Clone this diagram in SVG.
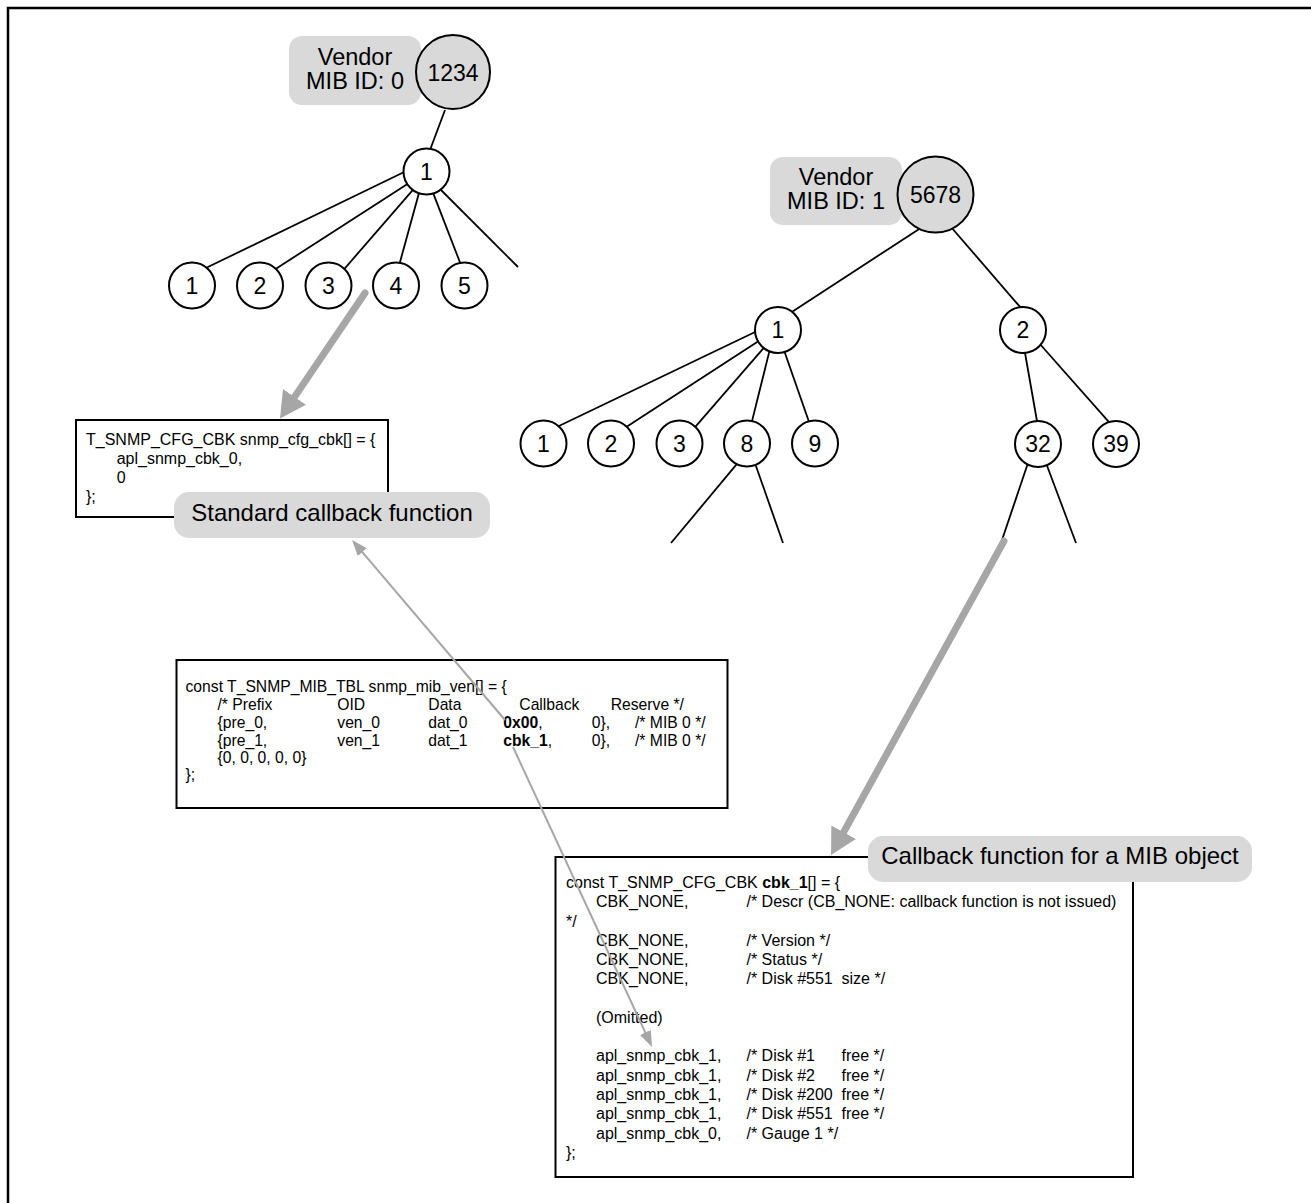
<svg xmlns="http://www.w3.org/2000/svg" width="1311" height="1203" viewBox="0 0 1311 1203">
<defs>
<style>
text{font-family:"Liberation Sans",Arial,sans-serif;fill:#000}
.frame{fill:none;stroke:#000;stroke-width:2.5}
.edge{stroke:#000;stroke-width:1.8;fill:none}
.node circle{fill:#fff;stroke:#000;stroke-width:2}
.node.root circle{fill:#d9d9d9}
.node text{font-size:23px;text-anchor:middle}
.tag rect{fill:#d9d9d9}
.tag text{font-size:23.5px;text-anchor:middle}
.tag.big text{font-size:24px}
.code rect{fill:#fff;stroke:#000;stroke-width:2}
.code text{font-size:16px}
#box-mib text{font-size:15.7px}
.b{font-weight:bold}
.thick{stroke:#a6a6a6;stroke-width:7;stroke-linecap:round;fill:none}
.thin{stroke:#a6a6a6;stroke-width:2;fill:none}
</style>
<marker id="headBig" viewBox="0 0 26 28" markerWidth="26" markerHeight="28" refX="6" refY="14" orient="auto" markerUnits="userSpaceOnUse">
<path d="M0,0 L26,14 L0,28 z" fill="#a6a6a6"/>
</marker>
<marker id="headThin" viewBox="0 0 16 12" markerWidth="16" markerHeight="12" refX="4" refY="6" orient="auto" markerUnits="userSpaceOnUse">
<path d="M0,0 L16,6 L0,12 z" fill="#a6a6a6"/>
</marker>
</defs>
<rect width="1311" height="1203" fill="#fff"/>
<rect class="frame" x="8" y="8" width="1320" height="1220"/>

<g id="tree-edges">
<line class="edge" x1="445" y1="110" x2="430" y2="150"/>
<line class="edge" x1="404.7" y1="171.7" x2="205.3" y2="268.3"/>
<line class="edge" x1="409" y1="183" x2="274" y2="270"/>
<line class="edge" x1="414" y1="188.7" x2="344" y2="269.3"/>
<line class="edge" x1="419.8" y1="190.1" x2="399.2" y2="265"/>
<line class="edge" x1="432" y1="190.2" x2="461" y2="265"/>
<line class="edge" x1="440" y1="189" x2="518" y2="267"/>
<line class="edge" x1="921.5" y1="227.4" x2="789.5" y2="313.6"/>
<line class="edge" x1="951" y1="227" x2="1023" y2="310.3"/>
<line class="edge" x1="757.7" y1="330.7" x2="556.3" y2="427.3"/>
<line class="edge" x1="759.5" y1="340.4" x2="625.5" y2="427.6"/>
<line class="edge" x1="764" y1="347.7" x2="694" y2="428.3"/>
<line class="edge" x1="769.7" y1="350.1" x2="751.3" y2="423.9"/>
<line class="edge" x1="784" y1="350.2" x2="810" y2="424.8"/>
<line class="edge" x1="738" y1="462.7" x2="671" y2="543"/>
<line class="edge" x1="755" y1="463.2" x2="783" y2="543"/>
<line class="edge" x1="1024.5" y1="350" x2="1037.5" y2="424"/>
<line class="edge" x1="1039" y1="343" x2="1111" y2="424.3"/>
<line class="edge" x1="1028" y1="463" x2="1002" y2="540"/>
<line class="edge" x1="1046" y1="463" x2="1076" y2="543"/>
</g>

<g id="label-vendor0" class="tag">
<rect x="289" y="36" width="132" height="69" rx="13"/>
<text x="355" y="65">Vendor</text>
<text x="355" y="88.5">MIB ID: 0</text>
</g>
<g id="label-vendor1" class="tag">
<rect x="770" y="157" width="132" height="68" rx="13"/>
<text x="836" y="185">Vendor</text>
<text x="836" y="209">MIB ID: 1</text>
</g>

<g id="n-1234" class="node root"><circle cx="453" cy="72" r="37"/><text x="453" y="80.5">1234</text></g>
<g id="n-a1" class="node"><circle cx="426.5" cy="171.5" r="23"/><text x="426.5" y="179.5">1</text></g>
<g id="n-a1-1" class="node"><circle cx="192" cy="285.5" r="23"/><text x="192" y="293.5">1</text></g>
<g id="n-a1-2" class="node"><circle cx="260" cy="285.5" r="23"/><text x="260" y="293.5">2</text></g>
<g id="n-a1-3" class="node"><circle cx="328.5" cy="285.5" r="23"/><text x="328.5" y="293.5">3</text></g>
<g id="n-a1-4" class="node"><circle cx="396" cy="285.5" r="23"/><text x="396" y="293.5">4</text></g>
<g id="n-a1-5" class="node"><circle cx="464.5" cy="285.5" r="23"/><text x="464.5" y="293.5">5</text></g>

<g id="n-5678" class="node root"><circle cx="935.5" cy="194.5" r="38"/><text x="935.5" y="202.5">5678</text></g>
<g id="n-b1" class="node"><circle cx="778" cy="330" r="23"/><text x="778" y="338">1</text></g>
<g id="n-b2" class="node"><circle cx="1023" cy="330" r="23"/><text x="1023" y="338">2</text></g>
<g id="n-b1-1" class="node"><circle cx="543.5" cy="443.5" r="23"/><text x="543.5" y="451.5">1</text></g>
<g id="n-b1-2" class="node"><circle cx="611" cy="443.5" r="23"/><text x="611" y="451.5">2</text></g>
<g id="n-b1-3" class="node"><circle cx="679.5" cy="443.5" r="23"/><text x="679.5" y="451.5">3</text></g>
<g id="n-b1-8" class="node"><circle cx="747" cy="443.5" r="23"/><text x="747" y="451.5">8</text></g>
<g id="n-b1-9" class="node"><circle cx="815" cy="443.5" r="23"/><text x="815" y="451.5">9</text></g>
<g id="n-b2-32" class="node"><circle cx="1038" cy="444" r="23"/><text x="1038" y="452">32</text></g>
<g id="n-b2-39" class="node"><circle cx="1116" cy="444" r="23"/><text x="1116" y="452">39</text></g>

<g id="box-cfg" class="code">
<rect x="76" y="420" width="312" height="97"/>
<text x="86" y="445">T_SNMP_CFG_CBK snmp_cfg_cbk[] = {</text>
<text x="116.7" y="464">apl_snmp_cbk_0,</text>
<text x="116.7" y="483">0</text>
<text x="86" y="502">};</text>
</g>

<g id="box-mib" class="code">
<rect x="176.5" y="660" width="551" height="148"/>
<text x="185.5" y="692">const T_SNMP_MIB_TBL snmp_mib_ven[] = {</text>
<text x="217.5" y="710">/* Prefix</text><text x="337.3" y="710">OID</text><text x="428.3" y="710">Data</text><text x="519.3" y="710">Callback</text><text x="610.7" y="710">Reserve */</text>
<text x="217.5" y="728">{pre_0,</text><text x="337.3" y="728">ven_0</text><text x="428.3" y="728">dat_0</text><text x="503.3" y="728"><tspan class="b">0x00</tspan>,</text><text x="591.7" y="728">0},</text><text x="635" y="728">/* MIB 0 */</text>
<text x="217.5" y="746">{pre_1,</text><text x="337.3" y="746">ven_1</text><text x="428.3" y="746">dat_1</text><text x="503.3" y="746"><tspan class="b">cbk_1</tspan>,</text><text x="591.7" y="746">0},</text><text x="635" y="746">/* MIB 0 */</text>
<text x="217.5" y="763">{0, 0, 0, 0, 0}</text>
<text x="185.5" y="780">};</text>
</g>

<g id="box-cbk1" class="code">
<rect x="555.5" y="857" width="577.5" height="320"/>
<text x="566" y="888">const T_SNMP_CFG_CBK <tspan class="b">cbk_1</tspan>[] = {</text>
<text x="596" y="907.3">CBK_NONE,</text><text x="746.5" y="907.3">/* Descr (CB_NONE: callback function is not issued)</text>
<text x="566" y="926.5">*/</text>
<text x="596" y="945.8">CBK_NONE,</text><text x="746.5" y="945.8">/* Version */</text>
<text x="596" y="965.1">CBK_NONE,</text><text x="746.5" y="965.1">/* Status */</text>
<text x="596" y="984.4">CBK_NONE,</text><text x="746.5" y="984.4">/* Disk #551</text><text x="841.5" y="984.4">size */</text>
<text x="596" y="1022.9">(Omitted)</text>
<text x="596" y="1061.4">apl_snmp_cbk_1,</text><text x="746.5" y="1061.4">/* Disk #1</text><text x="841.5" y="1061.4">free */</text>
<text x="596" y="1080.7">apl_snmp_cbk_1,</text><text x="746.5" y="1080.7">/* Disk #2</text><text x="841.5" y="1080.7">free */</text>
<text x="596" y="1100">apl_snmp_cbk_1,</text><text x="746.5" y="1100">/* Disk #200</text><text x="841.5" y="1100">free */</text>
<text x="596" y="1119.2">apl_snmp_cbk_1,</text><text x="746.5" y="1119.2">/* Disk #551</text><text x="841.5" y="1119.2">free */</text>
<text x="596" y="1138.5">apl_snmp_cbk_0,</text><text x="746.5" y="1138.5">/* Gauge 1 */</text>
<text x="566" y="1157.8">};</text>
</g>

<g id="label-standard" class="tag big">
<rect x="174" y="492" width="316" height="46" rx="15"/>
<text x="332" y="521">Standard callback function</text>
</g>
<g id="label-callback" class="tag big">
<rect x="868" y="836" width="384" height="46" rx="15"/>
<text x="1060" y="864">Callback function for a MIB object</text>
</g>

<g id="connectors">
<line class="thick" x1="365" y1="293" x2="291.2" y2="401.9" marker-end="url(#headBig)"/>
<line class="thick" x1="1004" y1="541" x2="840.7" y2="837.5" marker-end="url(#headBig)"/>
<line class="thin" x1="505" y1="720" x2="359.8" y2="549.1" marker-end="url(#headThin)"/>
<line class="thin" x1="513" y1="747" x2="647" y2="1036.1" marker-end="url(#headThin)"/>
</g>
</svg>
